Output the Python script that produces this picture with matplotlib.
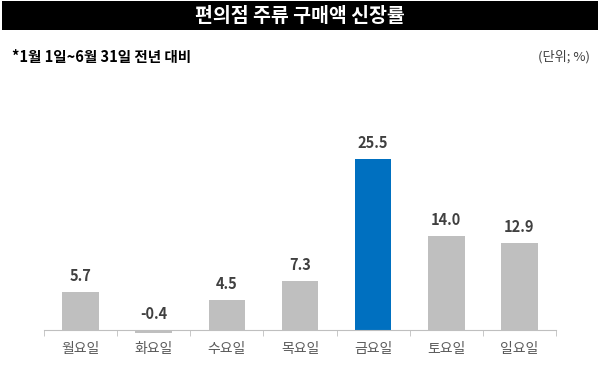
import matplotlib
matplotlib.use("Agg")
import matplotlib.pyplot as plt
from matplotlib.patches import Rectangle

plt.rcParams['font.family'] = ['Noto Sans CJK KR', 'DejaVu Sans']

days = ['월요일', '화요일', '수요일', '목요일', '금요일', '토요일', '일요일']
growth = [5.7, -0.4, 4.5, 7.3, 25.5, 14.0, 12.9]
highlight = '금요일'

title = '편의점 주류 구매액 신장률'
note = '*1월 1일~6월 31일 전년 대비'
unit = '(단위; %)'

fig = plt.figure(figsize=(6, 3.88), dpi=100)

# black title bar
fig.patches.append(Rectangle((2 / 600, 1 - 30 / 388), 596 / 600, 29 / 388,
                             transform=fig.transFigure, facecolor='black',
                             edgecolor='none'))
fig.text(0.5, 1 - 16 / 388, title, color='white', fontsize=14,
         fontweight='bold', ha='center', va='center')
fig.text(12 / 600, 1 - 57 / 388, note, color='black', fontsize=10.5,
         fontweight='bold', ha='left', va='center')
fig.text(590 / 600, 1 - 57 / 388, unit, color='#404040', fontsize=9.5,
         ha='right', va='center')

ax = fig.add_axes([44 / 600, 1 - 345 / 388, 512 / 600, 215 / 388])
x = range(len(days))
colors = ['#0070C0' if d == highlight else '#BFBFBF' for d in days]
ax.bar(x, growth, width=0.5, color=colors)

scale = 171 / 25.5  # px per unit
ax.set_ylim(-15 / scale, 200 / scale)
ax.set_xlim(-0.5, len(days) - 0.5)

for i, v in enumerate(growth):
    ax.text(i, max(v, 0) + 8 / scale, f'{v:.1f}', ha='center', va='bottom',
            fontsize=10.5, fontweight='bold', color='#404040')

for s in ['top', 'left', 'right']:
    ax.spines[s].set_visible(False)
ax.spines['bottom'].set_position(('data', 0))
ax.spines['bottom'].set_color('#BFBFBF')
ax.set_yticks([])
ax.set_xticks(list(x))
ax.set_xticklabels(days, fontsize=10, color='#595959')
ax.tick_params(axis='x', which='major', length=0, pad=9)
ax.set_xticks([i - 0.5 for i in range(len(days) + 1)], minor=True)
ax.tick_params(axis='x', which='minor', length=4, color='#BFBFBF')

fig.savefig('out.png', dpi=100)
